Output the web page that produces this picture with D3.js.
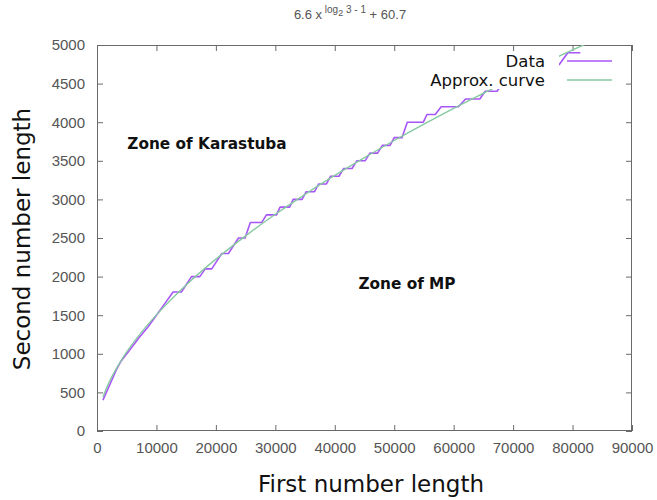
<!DOCTYPE html>
<html>
<head>
<meta charset="utf-8">
<script src="https://cdn.jsdelivr.net/npm/d3@7"></script>
<style>
  body { margin: 0; background: #fff; }
  svg { display: block; }
</style>
</head>
<body>
<div id="chart"></div>
<script>
const dataX = [1000, 3300, 4000, 5500, 7000, 8600, 10000, 11400, 12800, 14200, 15900, 17300, 18200, 19300,
  21000, 22100, 23800, 24900, 25800, 27700, 28500, 30200, 30800, 32400, 33000, 34500, 35200, 36600,
  37300, 38600, 39300, 40700, 41500, 42900, 43700, 45100, 45900, 47200, 48000, 49300, 50000, 51300,
  52200, 54900, 55500, 56900, 57900, 60800, 62000, 64400, 65300, 67300, 68200, 70500, 71000, 73500,
  74000, 76800, 77800, 79200, 81300];
const dataY = [400, 800, 900, 1050, 1200, 1350, 1500, 1650, 1800, 1800, 2000, 2000, 2100, 2100,
  2300, 2300, 2500, 2500, 2700, 2700, 2800, 2800, 2900, 2900, 3000, 3000, 3100, 3100,
  3200, 3200, 3300, 3300, 3400, 3400, 3500, 3500, 3600, 3600, 3700, 3700, 3800, 3800,
  4000, 4000, 4100, 4100, 4200, 4200, 4300, 4300, 4400, 4400, 4500, 4500, 4600, 4600,
  4700, 4700, 4750, 4900, 4900];

const curveX = [1000, 1500, 2000, 3000, 4000, 5000, 7500, 10000, 15000, 20000, 25000, 30000, 35000,
  40000, 45000, 50000, 55000, 60000, 65000, 70000, 75000, 80000, 82000];
const curveY = [436, 537, 624, 775, 906, 1024, 1281, 1504, 1892, 2226, 2528, 2807, 3066,
  3310, 3542, 3763, 3975, 4180, 4375, 4567, 4753, 4936, 5005];

const xTicks = [0, 10000, 20000, 30000, 40000, 50000, 60000, 70000, 80000, 90000];
const yTicks = [0, 500, 1000, 1500, 2000, 2500, 3000, 3500, 4000, 4500, 5000];

const width = 657, height = 500;
const plot = { left: 97, top: 45, right: 632, bottom: 431 };
const purple = '#a855f7', green = '#86c9a0', axisGrey = '#6a6a6a', textGrey = '#555';

const svg = d3.select('#chart').append('svg')
  .attr('width', width)
  .attr('height', height)
  .attr('viewBox', `0 0 ${width} ${height}`);

const x = d3.scaleLinear().domain([0, 90000]).range([plot.left, plot.right]);
const y = d3.scaleLinear().domain([0, 5000]).range([plot.bottom, plot.top]);

svg.append('clipPath').attr('id', 'plot-clip')
  .append('rect')
  .attr('x', plot.left).attr('y', plot.top)
  .attr('width', plot.right - plot.left).attr('height', plot.bottom - plot.top);

// Axes, ticks pointing inward on all four sides
function styleAxis(g, showText) {
  g.select('.domain').remove();
  g.selectAll('.tick line').attr('stroke', axisGrey);
  g.selectAll('text')
    .attr('fill', textGrey)
    .attr('font-family', '"Liberation Sans", Arial, sans-serif')
    .attr('font-size', '15px')
    .style('display', showText ? null : 'none');
}

svg.append('g')
  .attr('transform', `translate(0,${plot.bottom})`)
  .call(d3.axisBottom(x).tickValues(xTicks).tickSize(-6).tickPadding(11).tickFormat(d => d))
  .call(g => styleAxis(g, true));

svg.append('g')
  .attr('transform', `translate(0,${plot.top})`)
  .call(d3.axisTop(x).tickValues(xTicks).tickSize(-6))
  .call(g => styleAxis(g, false));

svg.append('g')
  .attr('transform', `translate(${plot.left},0)`)
  .call(d3.axisLeft(y).tickValues(yTicks).tickSize(-6).tickPadding(12).tickFormat(d => d))
  .call(g => styleAxis(g, true));

svg.append('g')
  .attr('transform', `translate(${plot.right},0)`)
  .call(d3.axisRight(y).tickValues(yTicks).tickSize(-6))
  .call(g => styleAxis(g, false));

svg.append('rect')
  .attr('x', plot.left + 0.5).attr('y', plot.top + 0.5)
  .attr('width', plot.right - plot.left - 1).attr('height', plot.bottom - plot.top - 1)
  .attr('fill', 'none')
  .attr('stroke', axisGrey);

// Lines
const lines = svg.append('g').attr('clip-path', 'url(#plot-clip)');

const curveLine = d3.line()
  .x(i => x(curveX[i]))
  .y(i => y(curveY[i]))
  .curve(d3.curveMonotoneX);

const dataLine = d3.line()
  .x(i => x(dataX[i]))
  .y(i => y(dataY[i]));

lines.append('path')
  .attr('d', dataLine(d3.range(dataX.length)))
  .attr('fill', 'none')
  .attr('stroke', purple)
  .attr('stroke-width', 1.6)
  .attr('stroke-linejoin', 'round');

lines.append('path')
  .attr('d', curveLine(d3.range(curveX.length)))
  .attr('fill', 'none')
  .attr('stroke', green)
  .attr('stroke-width', 1.4);

// Legend (opaque behind the text)
svg.append('rect')
  .attr('x', 425).attr('y', 52)
  .attr('width', 134).attr('height', 37)
  .attr('fill', '#fff');

const legend = [
  { label: 'Data', color: purple, y: 61 },
  { label: 'Approx. curve', color: green, y: 80 }
];
legend.forEach(d => {
  svg.append('text')
    .attr('x', 545).attr('y', d.y + 5.5)
    .attr('text-anchor', 'end')
    .attr('font-family', '"DejaVu Sans", Verdana, sans-serif')
    .attr('font-size', '16.5px')
    .attr('fill', '#111')
    .text(d.label);
  svg.append('line')
    .attr('x1', 567).attr('x2', 612)
    .attr('y1', d.y).attr('y2', d.y)
    .attr('stroke', d.color)
    .attr('stroke-width', 1.6);
});

// Zone annotations
svg.append('text')
  .attr('x', 207).attr('y', 149)
  .attr('text-anchor', 'middle')
  .attr('font-family', '"DejaVu Sans", Verdana, sans-serif')
  .attr('font-weight', 'bold')
  .attr('font-size', '15.3px')
  .attr('fill', '#111')
  .text('Zone of Karastuba');

svg.append('text')
  .attr('x', 407).attr('y', 289)
  .attr('text-anchor', 'middle')
  .attr('font-family', '"DejaVu Sans", Verdana, sans-serif')
  .attr('font-weight', 'bold')
  .attr('font-size', '15.3px')
  .attr('fill', '#111')
  .text('Zone of MP');

// Title: 6.6 x^(log2 3 - 1) + 60.7
const title = svg.append('text')
  .attr('x', 350).attr('y', 19)
  .attr('text-anchor', 'middle')
  .attr('font-family', '"Liberation Sans", Arial, sans-serif')
  .attr('font-size', '13px')
  .attr('fill', textGrey);
title.append('tspan').text('6.6 x');
title.append('tspan').attr('dy', -6).attr('font-size', '10px').text(' log');
title.append('tspan').attr('dy', 3).attr('font-size', '9px').text('2');
title.append('tspan').attr('dy', -3).attr('font-size', '10px').text(' 3 - 1');
title.append('tspan').attr('dy', 6).text(' + 60.7');

// Axis titles
svg.append('text')
  .attr('x', 371).attr('y', 492)
  .attr('text-anchor', 'middle')
  .attr('font-family', '"DejaVu Sans", Verdana, sans-serif')
  .attr('font-size', '23px')
  .attr('fill', '#111')
  .text('First number length');

svg.append('text')
  .attr('transform', 'translate(30,239) rotate(-90)')
  .attr('text-anchor', 'middle')
  .attr('font-family', '"DejaVu Sans", Verdana, sans-serif')
  .attr('font-size', '23px')
  .attr('fill', '#111')
  .text('Second number length');
</script>
</body>
</html>
